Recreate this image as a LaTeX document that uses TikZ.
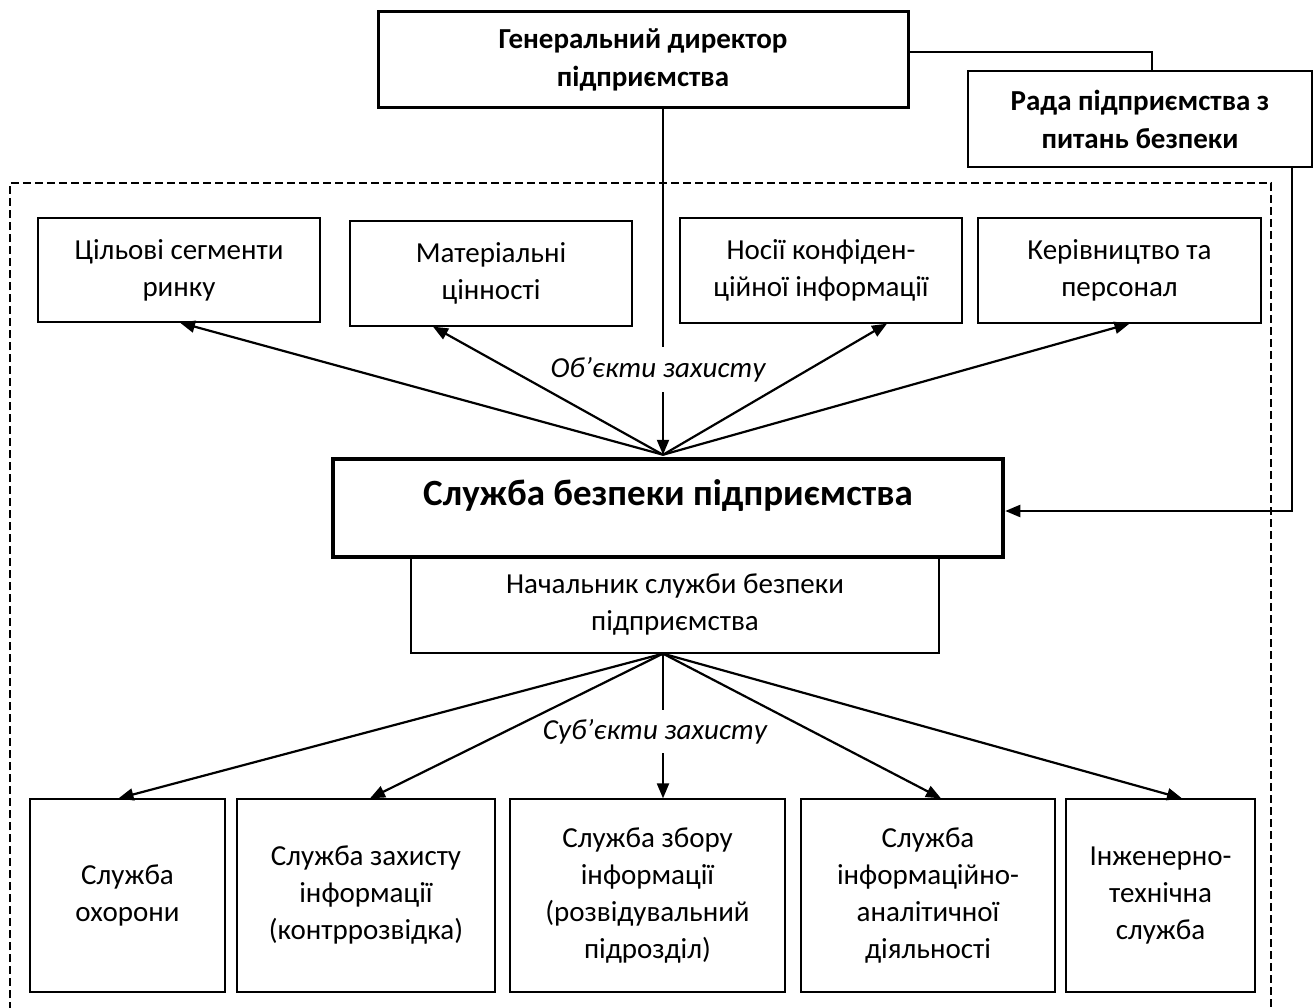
\documentclass[tikz,border=0pt]{standalone}
\usepackage{fontspec}
\setmainfont{Carlito}
\usetikzlibrary{arrows.meta,calc}
\begin{document}
\begin{tikzpicture}[x=1pt,y=-1pt,
  every node/.style={font=\fontsize{29}{37}\selectfont, align=center, inner sep=0pt},
  tbox/.style={draw, line width=1.3pt},
  conn/.style={line width=1.6pt},
  arr/.style={line width=2.2pt, -{Triangle[length=15pt,width=12pt]}},
  dashline/.style={line width=1.4pt, dash pattern=on 8pt off 4pt},
  lbl/.style={font=\fontsize{29}{37}\selectfont\itshape}
]
\useasboundingbox (0,0) rectangle (1314,1008);

% dashed frame
\draw[dashline] (10,1010) -- (10,183) -- (1271,183) -- (1271,1010);

% top
\node[draw, line width=3pt, minimum width=530, minimum height=96, font=\fontsize{29}{38}\selectfont\bfseries] (gen) at (643,60) {Генеральний директор\\підприємства};
\node[tbox, minimum width=344, minimum height=96, font=\fontsize{29}{38}\selectfont\bfseries] (rada) at (1140,119) {Рада підприємства з\\питань безпеки};

% objects
\node[tbox, minimum width=282, minimum height=104] (c1) at (179,270) {Цільові сегменти\\ринку};
\node[tbox, minimum width=282, minimum height=105] (c2) at (491,273.5) {Матеріальні\\цінності};
\node[tbox, minimum width=282, minimum height=105] (c3) at (821,270.5) {Носії конфіден-\\ційної інформації};
\node[tbox, minimum width=283, minimum height=105] (c4) at (1119.5,270.5) {Керівництво та\\персонал};

% service
\node[draw, line width=4.5pt, minimum width=670, minimum height=98] (sb) at (668,508) {};
\node[font=\fontsize{37}{44}\selectfont\bfseries] (sbt) at (668,495) {Служба безпеки підприємства};
\node[tbox, minimum width=528, minimum height=96] (nach) at (675,605) {Начальник служби безпеки\\підприємства};

% subjects
\node[tbox, minimum width=195, minimum height=193] (b1) at (127.5,895.5) {Служба\\охорони};
\node[tbox, minimum width=258, minimum height=193] (b2) at (366,895.5) {Служба захисту\\інформації\\(контррозвідка)};
\node[tbox, minimum width=275, minimum height=193] (b3) at (647.5,895.5) {Служба збору\\інформації\\(розвідувальний\\підрозділ)};
\node[tbox, minimum width=254, minimum height=193] (b4) at (928,895.5) {Служба\\інформаційно-\\аналітичної\\діяльності};
\node[tbox, minimum width=189, minimum height=193] (b5) at (1160.5,895.5) {Інженерно-\\технічна\\служба};

% labels
\node[lbl, minimum height=45] (ob) at (658,369.5) {Об’єкти захисту};
\node[lbl, minimum height=43] (sub) at (655,731.5) {Суб’єкти захисту};

% hubs
\coordinate (hub1) at ([xshift=-5pt,yshift=2pt]sb.north);
\coordinate (hub2) at ([xshift=-12pt]nach.south);

% connectors top
\draw[conn] ([yshift=8pt]gen.east) -| ([xshift=12pt]rada.north);
\draw[conn] ([xshift=20pt]gen.south) -- (ob.north -| hub1);
\draw[arr] (ob.south -| hub1) -- (hub1);
\draw[arr] ([xshift=-21pt]rada.south east) |- ([yshift=-3pt]sb.east);

\draw[arr] (hub1) -- ([xshift=1pt]c1.south);
\draw[arr] (hub1) -- ([xshift=-58pt]c2.south);
\draw[arr] (hub1) -- ([xshift=66pt]c3.south);
\draw[arr] (hub1) -- ([xshift=10pt]c4.south);

% connectors bottom
\draw[arr] (hub2) -- ([xshift=-9pt]b1.north);
\draw[arr] (hub2) -- ([xshift=4pt]b2.north);
\draw[conn] (hub2) -- (sub.north -| hub2);
\draw[arr] (sub.south -| hub2) -- (b3.north -| hub2);
\draw[arr] (hub2) -- ([xshift=13pt]b4.north);
\draw[arr] (hub2) -- ([xshift=21.5pt]b5.north);
\end{tikzpicture}
\end{document}
